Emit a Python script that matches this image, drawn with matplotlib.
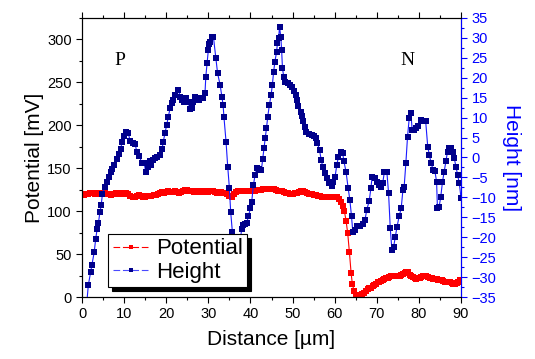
import numpy as np
import matplotlib.pyplot as plt
from matplotlib.lines import Line2D
from matplotlib.ticker import MultipleLocator

plt.rcParams['font.family'] = ['Liberation Sans', 'DejaVu Sans']

# Potential (left axis, mV)
pot_x = [0.0, 0.5, 1.0, 1.5, 2.0, 2.5, 3.0, 3.5, 4.0, 4.5,
         5.0, 5.5, 6.0, 6.5, 7.0, 7.5, 8.0, 8.5, 9.0, 9.5,
         10.0, 10.5, 11.0, 11.5, 12.0, 12.5, 13.0, 13.5, 14.0, 14.5,
         15.0, 15.5, 16.0, 16.5, 17.0, 17.5, 18.0, 18.5, 19.0, 19.5,
         20.0, 20.5, 21.0, 21.5, 22.0, 22.5, 23.0, 23.5, 24.0, 24.5,
         25.0, 25.5, 26.0, 26.5, 27.0, 27.5, 28.0, 28.5, 29.0, 29.5,
         30.0, 30.5, 31.0, 31.5, 32.0, 32.5, 33.0, 33.5, 34.0, 34.5,
         35.0, 35.5, 36.0, 36.5, 37.0, 37.5, 38.0, 38.5, 39.0, 39.5,
         40.0, 40.5, 41.0, 41.5, 42.0, 42.5, 43.0, 43.5, 44.0, 44.5,
         45.0, 45.5, 46.0, 46.5, 47.0, 47.5, 48.0, 48.5, 49.0, 49.5,
         50.0, 50.5, 51.0, 51.5, 52.0, 52.5, 53.0, 53.5, 54.0, 54.5,
         55.0, 55.5, 56.0, 56.5, 57.0, 57.5, 58.0, 58.5, 59.0, 59.5,
         60.0, 60.5, 61.0, 61.5, 61.9, 62.3, 62.7, 63.1, 63.5, 63.9,
         64.2, 64.6, 65.0, 65.4, 65.8, 66.2, 66.6, 67.0, 67.4, 67.8,
         68.2, 68.6, 69.0, 69.4, 69.8, 70.2, 70.6, 71.0, 71.4, 71.8,
         72.2, 72.6, 73.0, 73.4, 73.8, 74.2, 74.6, 75.0, 75.4, 75.8,
         76.2, 76.6, 77.0, 77.4, 77.8, 78.2, 78.6, 79.0, 79.4, 79.8,
         80.2, 80.6, 81.0, 81.4, 81.8, 82.2, 82.6, 83.0, 83.4, 83.8,
         84.2, 84.6, 85.0, 85.4, 85.8, 86.2, 86.6, 87.0, 87.4, 87.8,
         88.2, 88.6, 89.0, 89.4, 89.8]
pot_y = [119, 119, 120, 120, 121, 121, 120, 121, 121, 120,
         120, 121, 120, 120, 119, 120, 121, 121, 120, 120,
         121, 121, 120, 118, 117, 117, 118, 119, 118, 117,
         117, 118, 118, 118, 119, 119, 120, 121, 122, 121,
         122, 123, 122, 122, 123, 122, 121, 122, 124, 125,
         125, 124, 123, 122, 123, 123, 122, 122, 123, 123,
         122, 123, 123, 122, 121, 122, 122, 121, 121, 120,
         118, 117, 120, 122, 123, 123, 123, 124, 124, 124,
         124, 123, 124, 125, 125, 125, 126, 126, 126, 126,
         126, 126, 125, 124, 124, 123, 122, 121, 121, 120,
         120, 121, 121, 122, 123, 123, 122, 121, 120, 120,
         119, 119, 118, 118, 117, 117, 117, 116, 116, 116,
         116, 116, 114, 111, 106, 100, 89, 74, 52, 28,
         15, 7, 2, 0.5, 0, 1, 3, 5, 7, 9,
         10, 11, 13, 14, 15, 17, 18, 19, 20, 21,
         22, 22, 23, 24, 24, 25, 24, 24, 25, 26,
         27, 28, 29, 29, 26, 24, 23, 22, 21, 22,
         22, 23, 24, 25, 24, 23, 22, 22, 21, 21,
         20.5, 20, 20, 19.5, 19, 18, 17.5, 17, 17, 16,
         15, 15, 16, 18, 19.5]

# Height (right axis, nm)
hgt_x = [1.0, 1.5, 2.05, 2.4, 2.9, 3.25, 3.6, 3.9, 4.25, 4.55,
         4.85, 5.4, 5.85, 6.3, 6.9, 7.2, 7.7, 8.2, 8.7, 9.2,
         9.5, 9.9, 10.45, 11.0, 11.4, 12.0, 12.6, 13.0, 13.6, 14.2,
         14.8, 15.1, 15.6, 16.1, 16.5, 16.9, 17.4, 17.9, 18.5, 19.0,
         19.3, 19.7, 20.1, 20.5, 20.9, 21.3, 21.7, 22.1, 22.9, 23.3,
         23.7, 24.2, 24.7, 25.2, 25.6, 26.0, 26.4, 26.8, 27.2, 27.7,
         28.2, 28.8, 29.2, 29.4, 29.7, 30.0, 30.2, 30.5, 30.8, 31.2,
         31.8, 32.2, 32.8, 33.2, 33.5, 33.7, 34.2, 34.6, 35.0, 35.3,
         35.7, 36.3, 36.8, 37.4, 37.9, 38.3, 38.7, 39.1, 39.5, 40.0,
         40.3, 40.7, 41.1, 41.5, 42.1, 42.6, 42.9, 43.2, 43.5, 43.8,
         44.1, 44.5, 44.9, 45.2, 45.5, 45.8, 46.2, 46.4, 46.7, 46.9,
         47.2, 47.4, 47.6, 47.9, 48.3, 48.8, 49.3, 49.8, 50.4, 50.7,
         51.0, 51.4, 51.9, 52.2, 52.5, 52.9, 53.3, 53.9, 54.5, 55.1,
         55.6, 55.9, 56.4, 56.8, 57.2, 57.7, 58.1, 58.7, 59.3, 59.7,
         60.1, 60.5, 60.9, 61.4, 61.9, 62.2, 62.7, 63.2, 63.6, 64.0,
         64.3, 64.8, 65.4, 66.0, 66.7, 67.2, 67.6, 68.2, 68.6, 68.9,
         69.6, 70.0, 70.6, 71.0, 71.4, 71.8, 72.4, 72.8, 73.2, 73.6,
         74.0, 74.4, 74.8, 75.3, 75.8, 76.2, 76.5, 76.9, 77.3, 77.7,
         78.1, 78.4, 78.9, 79.4, 79.9, 80.4, 80.9, 81.6, 82.1, 82.5,
         82.9, 83.4, 83.8, 84.2, 84.4, 84.8, 85.2, 85.6, 86.0, 86.4,
         86.8, 87.1, 87.6, 88.0, 88.4, 88.8, 89.2, 89.6, 90.0]
hgt_y = [-38, -32, -28.8, -26.9, -23.7, -20.4, -17.9, -16.4, -13.7, -12,
         -9.1, -7.5, -6.1, -4.8, -3.6, -3.0, -1.9, -0.4, 0.9, 2.1,
         4.0, 5.3, 6.5, 6.1, 4.2, 3.7, 3.4, 1.5, 0.5, -1.5,
         -1.5, -3.6, -2.3, -0.8, -1.9, -0.6, -0.2, 0.2, 0.6, 2.1,
         4.0, 6.1, 8.2, 10.2, 12.3, 13.6, 14.4, 15.7, 17.0, 15.3,
         14.4, 13.9, 15.0, 14.0, 12.1, 12.5, 13.9, 15.3, 14.4, 14.4,
         14.9, 15.0, 16.1, 20.3, 23.6, 27.0, 28.4, 29.0, 30.2, 30.3,
         24.9, 21.1, 18.2, 15.3, 13.2, 10.2, 4.0, -2.3, -7.7, -13.6,
         -18.6, -24, -26, -22.5, -18, -17, -16.7, -16.5, -14.8, -12.7,
         -11.1, -6.9, -4.4, -2.6, -2.9, -3.1, -0.4, 2.3, 4.8, 7.3,
         10.2, 13.2, 15.7, 18.2, 21.5, 24.0, 26.5, 28.6, 30.0, 32.8,
         30.3, 27.0, 22.4, 20.3, 19.0, 18.8, 18.2, 17.8, 16.7, 15.7,
         14.4, 13.0, 11.5, 10.5, 9.2, 7.7, 6.5, 5.8, 5.6, 5.5,
         4.8, 3.6, 1.9, -0.6, -2.5, -4.0, -5.2, -6.5, -7.1, -6.1,
         -4.8, -1.9, 0.2, 1.3, 1.1, -1.0, -3.6, -7.7, -10.6, -14.8,
         -18.6, -18.2, -17.3, -17.3, -16.8, -15.7, -13.2, -10.9, -7.7, -4.8,
         -5.2, -6.1, -6.9, -7.3, -6.5, -3.6, -3.7, -9.0, -17.8, -23.2,
         -22.4, -19.9, -17.4, -14.8, -12.7, -8.2, -7.3, -1.5, 5.2, 9.8,
         11.1, 6.9, 6.9, 7.3, 7.8, 9.4, 9.2, 9.2, 2.7, 0.6,
         -1.5, -3.1, -3.4, -6.1, -12.6, -12.4, -9.8, -6.1, -3.6, -1.0,
         1.5, 2.5, 2.3, 1.5, -0.2, -2.3, -4.4, -6.5, -10.2]

fig = plt.figure(figsize=(5.35, 3.59), dpi=100)
ax = fig.add_axes([0.1533, 0.1727, 0.7084, 0.7772])
ax2 = ax.twinx()

ax.plot(pot_x, pot_y, color='red', lw=0.8, marker='s', markersize=3.8,
        markeredgewidth=0)
ax2.plot(hgt_x, hgt_y, color='#1a1aff', lw=0.8, marker='s', markersize=3.8,
         markerfacecolor='#00008b', markeredgecolor='#00008b', markeredgewidth=0)

ax.set_xlim(0, 90)
ax.set_ylim(0, 325)
ax2.set_ylim(-35, 35)

ax.xaxis.set_major_locator(MultipleLocator(10))
ax.xaxis.set_minor_locator(MultipleLocator(5))
ax.yaxis.set_major_locator(MultipleLocator(50))
ax.yaxis.set_minor_locator(MultipleLocator(25))
ax2.yaxis.set_major_locator(MultipleLocator(5))
ax2.yaxis.set_minor_locator(MultipleLocator(2.5))

ax.tick_params(which='both', direction='out', top=True, right=False,
               labelsize=10.5, width=0.8)
ax.tick_params(which='major', length=4)
ax.tick_params(which='minor', length=2.5)
ax2.tick_params(which='both', direction='out', colors='blue', labelsize=10.5,
                width=0.8)
ax2.tick_params(which='major', length=4)
ax2.tick_params(which='minor', length=2.5)
ax2.spines['right'].set_color('blue')
for a in (ax, ax2):
    a.spines['left'].set_linewidth(0.8)
    a.spines['right'].set_linewidth(0.8)
    a.spines['top'].set_linewidth(0.8)
    a.spines['bottom'].set_linewidth(0.8)

ax.set_xlabel('Distance [µm]', fontsize=15, labelpad=6)
ax.set_ylabel('Potential [mV]', fontsize=15, labelpad=2)
ax2.set_ylabel('Height [nm]', fontsize=15, color='blue', rotation=270,
               labelpad=18)

ax.text(9, 275, 'P', fontsize=14, family='Liberation Serif', ha='center', va='center')
ax.text(77.4, 275, 'N', fontsize=14, family='Liberation Serif', ha='center', va='center')

handles = [
    Line2D([], [], color='red', lw=0.8, ls=(0, (6, 2.5)), marker='s',
           markersize=3, markeredgewidth=0),
    Line2D([], [], color='#4a4aff', lw=0.8, ls=(0, (6, 2.5)), marker='s',
           markersize=3, markerfacecolor='#00008b', markeredgewidth=0),
]
leg = ax2.legend(handles, ['Potential', 'Height'], loc='lower left',
                 bbox_to_anchor=(0.069, 0.036), borderaxespad=0,
                 fontsize=16, fancybox=False, framealpha=1, edgecolor='black',
                 handlelength=1.7, handletextpad=0.25, borderpad=0.2,
                 labelspacing=0.1, numpoints=1,
                 shadow={'ox': 3, 'oy': -3, 'color': 'black', 'alpha': 1})
leg.get_frame().set_linewidth(0.8)

fig.savefig('out.png', dpi=100)
